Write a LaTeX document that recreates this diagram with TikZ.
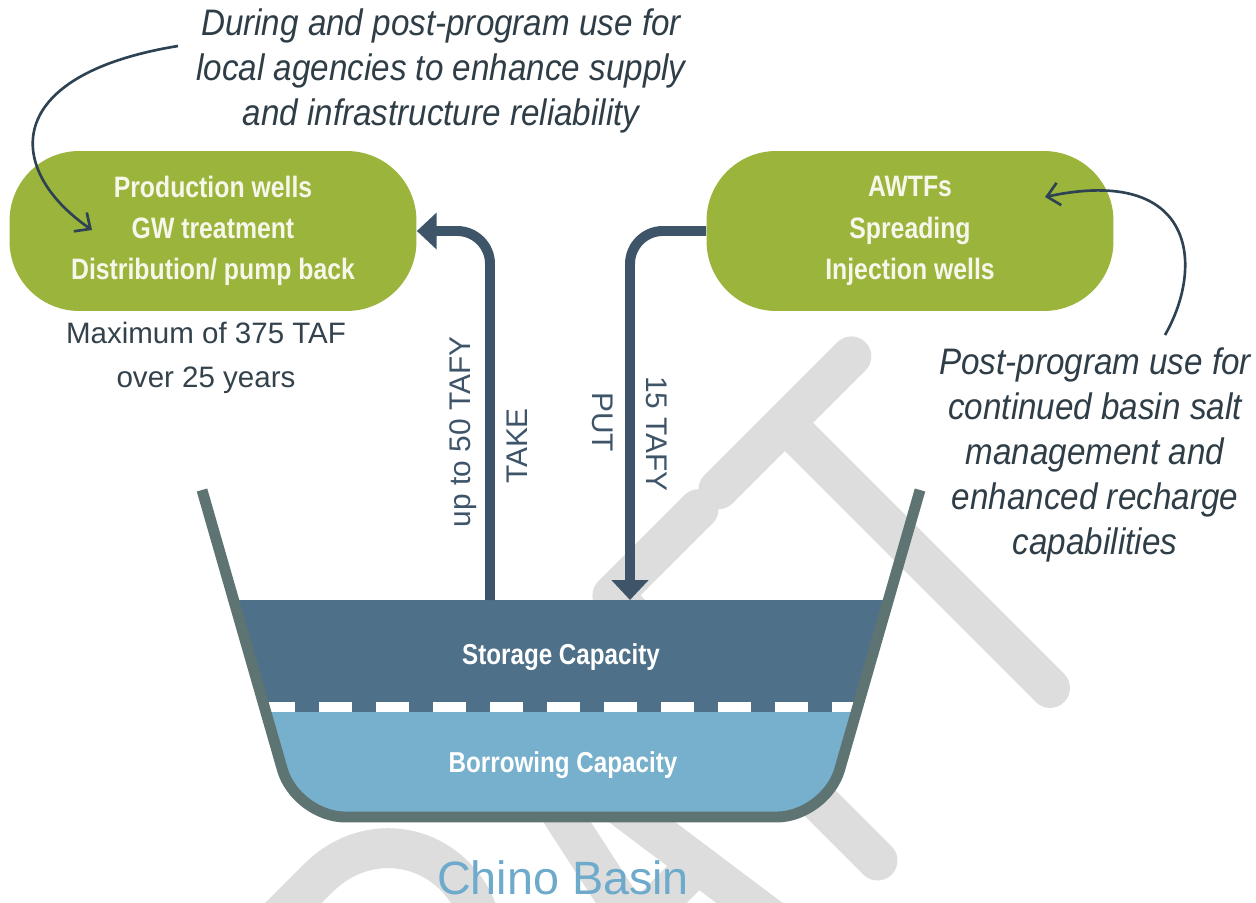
\documentclass[tikz,border=0pt]{standalone}
\usepackage{fontspec}
\setmainfont{Liberation Sans}
\newfontfamily\annfont[FakeStretch=0.9]{Liberation Sans}
\newfontfamily\condfont[FakeStretch=0.84]{Liberation Sans}
\usetikzlibrary{arrows.meta}
\definecolor{boxgreen}{HTML}{9BB43C}
\definecolor{boxtext}{HTML}{F6F7EA}
\definecolor{arrowblue}{HTML}{3E5569}
\definecolor{storeblue}{HTML}{4F7089}
\definecolor{borrowblue}{HTML}{77B0CD}
\definecolor{rimgray}{HTML}{5E7473}
\definecolor{notetext}{HTML}{2F3D47}
\definecolor{maxtext}{HTML}{34424C}
\definecolor{chinoblue}{HTML}{6DAACB}
\definecolor{wmgray}{HTML}{DDDDDD}
\definecolor{notearrowc}{HTML}{2D4253}
\begin{document}
\begin{tikzpicture}[x=0.02cm,y=-0.02cm,
  greenbox/.style={fill=boxgreen, rounded corners=39.7pt, minimum width=8.14cm, minimum height=3.2cm, text=boxtext, font={\condfont\bfseries\fontsize{16.8pt}{23.5pt}\selectfont}, align=center, inner sep=0pt},
  flow/.style={draw=arrowblue, line width=5.67pt, rounded corners=18.7pt, -{Triangle[length=11.3pt,width=20.4pt]}},
  note/.style={font={\annfont\itshape\fontsize{21pt}{25.5pt}\selectfont}, text=notetext, align=center, inner sep=0pt},
  notearrow/.style={draw=notearrowc, line width=1.5pt, -{Straight Barb[length=7pt,width=13pt]}},
  flowlabel/.style={font={\fontsize{17pt}{20pt}\selectfont}, text=arrowblue, inner sep=0pt},
  capacity/.style={font={\condfont\bfseries\fontsize{16.4pt}{20pt}\selectfont}, text=white, inner sep=0pt},
  wm/.style={draw=wmgray, line width=22.7pt, line cap=round, line join=round}
]
\useasboundingbox (0,0) rectangle (1256,902);
\fill[white] (0,0) rectangle (1256,902);

% watermark
\begin{scope}
  \clip (0,0) rectangle (1256,902);
  \begin{scope}[shift={(874,857)}, rotate=45]
    % T
    \draw[wm] (150,-370) -- (338,-370);
    \draw[wm] (244,-370) -- (244,5);
    % F
    \draw[wm] (0,5) -- (0,-370) -- (122,-370);
    \draw[wm] (0,-200) -- (100,-200);
    % A
    \draw[wm] (-245,5) -- (-165,-370) -- (-112,5);
    \draw[wm] (-222,-120) -- (-135,-120);
    % R
    \draw[wm] (-540,5) -- (-540,-378) -- (-407,-378) .. controls (-353,-378) and (-310,-337) .. (-310,-283) .. controls (-310,-229) and (-353,-188) .. (-407,-188) -- (-540,-188);
    \draw[wm] (-430,-188) -- (-310,5);
  \end{scope}
\end{scope}

% basin fill
\begin{scope}
  \clip[rounded corners=28pt] (202,490) -- (296,817) -- (826,817) -- (920,490) -- cycle;
  \fill[borrowblue] (150,600) rectangle (970,850);
  \fill[storeblue] (150,600) rectangle (970,712);
  \foreach \i in {0,...,10} {
    \fill[white] ({262+57*\i},702) rectangle ({295+57*\i},712);
  }
\end{scope}
\draw[rimgray, line width=6.2pt, rounded corners=28pt] (202,490) -- (296,817) -- (826,817) -- (920,490);

\node[capacity] (storage) at (561,657) {Storage Capacity};
\node[capacity] (borrow) at (563,765) {Borrowing Capacity};
\node[font={\fontsize{26.6pt}{30pt}\selectfont}, text=chinoblue, inner sep=0pt, anchor=base] (chino) at (563,894) {Chino Basin};

% boxes
\node[greenbox] (prod) at (213,231) {Production wells\\GW treatment\\Distribution/ pump back};
\node[greenbox] (awtf) at (910,231) {AWTFs\\Spreading\\Injection wells};

\node[font={\fontsize{16.8pt}{25pt}\selectfont}, text=maxtext, align=center, inner sep=0pt] (maxnote) at (206,358) {Maximum of 375 TAF\\over 25 years};

% flows
\coordinate (takefrom) at (490,600);
\coordinate (putto) at (630,600);
\draw[flow] (takefrom) |- (prod.east);
\draw[flow] (awtf.west) -| (putto);

\node[flowlabel, rotate=90] (takeamt) at (463,432) {up to 50 TAFY};
\node[flowlabel, rotate=90] (takelbl) at (517,446) {TAKE};
\node[flowlabel, rotate=-90] (putlbl) at (603,422) {PUT};
\node[flowlabel, rotate=-90] (putamt) at (657,434) {15 TAFY};

% notes
\node[note] (leftnote) at (441,71) {During and post-program use for\\local agencies to enhance supply\\and infrastructure reliability};
\node[note] (rightnote) at (1095,455) {Post-program use for\\continued basin salt\\management and\\enhanced recharge\\capabilities};

\coordinate (leftstart) at (178,46);
\coordinate (leftend) at (92,230);
\coordinate (rightstart) at (1165,335);
\coordinate (rightend) at (1045,197);
\draw[notearrow] (leftstart) .. controls (0,75) and (5,170) .. (leftend);
\draw[notearrow] (rightstart) .. controls (1205,265) and (1195,165) .. (rightend);
\end{tikzpicture}
\end{document}
